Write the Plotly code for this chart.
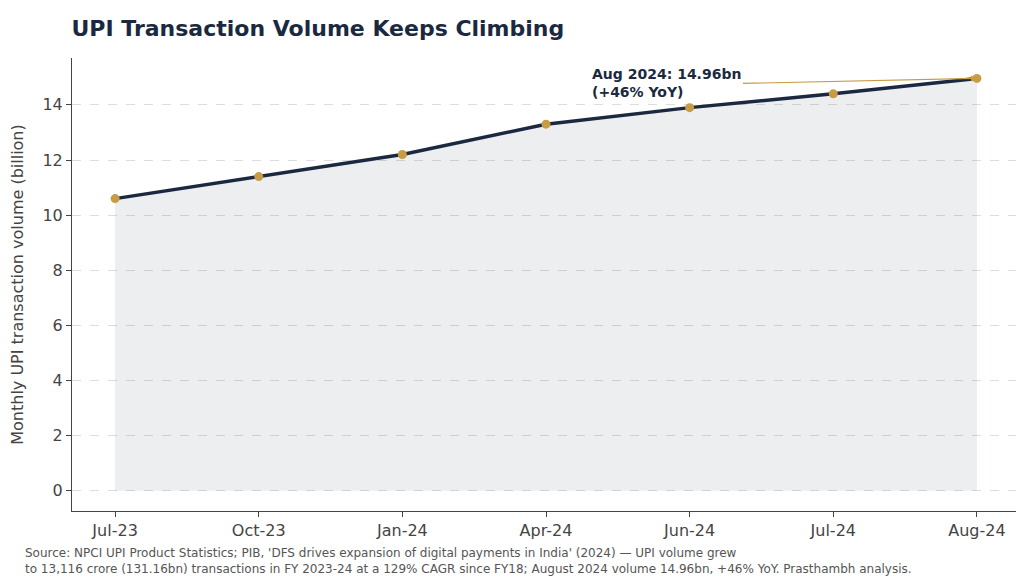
import plotly.graph_objects as go

months = ["Jul-23", "Oct-23", "Jan-24", "Apr-24", "Jun-24", "Jul-24", "Aug-24"]
volume_bn = [10.6, 11.4, 12.2, 13.3, 13.9, 14.4, 14.96]
y_ticks = [0, 2, 4, 6, 8, 10, 12, 14]

navy = "#1b2940"
gold = "#c89b45"
x_idx = list(range(len(months)))

fig = go.Figure()
fig.add_trace(go.Scatter(x=x_idx, y=volume_bn, fill="tozeroy", fillcolor="rgba(27,41,64,0.08)",
                         mode="lines", line=dict(color=navy, width=3.5),
                         showlegend=False, hoverinfo="skip"))
fig.add_trace(go.Scatter(x=x_idx, y=volume_bn, mode="markers",
                         marker=dict(color=gold, size=9), showlegend=False))

fig.add_annotation(x=x_idx[-1], y=volume_bn[-1], xref="x", yref="y",
                   text="<b>Aug 2024: 14.96bn<br>(+46% YoY)</b>", align="left",
                   xanchor="right", ax=-234, ay=5, showarrow=True, arrowhead=2,
                   arrowcolor=gold, arrowwidth=1.2, arrowsize=1,
                   font=dict(size=14, color=navy, family="DejaVu Sans"))

fig.add_annotation(x=-0.052, y=-0.073, xref="paper", yref="paper", xanchor="left", yanchor="top",
                   text="Source: NPCI UPI Product Statistics; PIB, 'DFS drives expansion of digital payments in India' (2024) — UPI volume grew<br>"
                        "to 13,116 crore (131.16bn) transactions in FY 2023-24 at a 129% CAGR since FY18; August 2024 volume 14.96bn, +46% YoY. Prasthambh analysis.",
                   showarrow=False, align="left", font=dict(size=12, color="#555"))

fig.update_layout(
    width=1024, height=577, margin=dict(l=64, r=12, t=50, b=74, autoexpand=False),
    paper_bgcolor="white", plot_bgcolor="white",
    font=dict(family="DejaVu Sans", color="#444"),
    title=dict(text="<b>UPI Transaction Volume Keeps Climbing</b>", x=0.062, y=0.965,
               xanchor="left", yanchor="middle", font=dict(size=22, color=navy)),
    xaxis=dict(tickmode="array", tickvals=x_idx, ticktext=months, range=[-0.3, 6.3],
               showgrid=False, showline=True, linecolor="#444", ticks="outside",
               tickcolor="#444", tickfont=dict(size=16, color="#444"), zeroline=False,
               automargin=False),
    yaxis=dict(tickvals=y_ticks, range=[-0.73, 15.7], showline=True, linecolor="#444",
               ticks="outside", tickcolor="#444", gridcolor="#dddddd", griddash="dash",
               zeroline=False, tickfont=dict(size=16, color="#444"), automargin=False,
               title=dict(text="Monthly UPI transaction volume (billion)", standoff=14,
                          font=dict(size=16, color="#444"))),
)
fig.write_html("out.html")
